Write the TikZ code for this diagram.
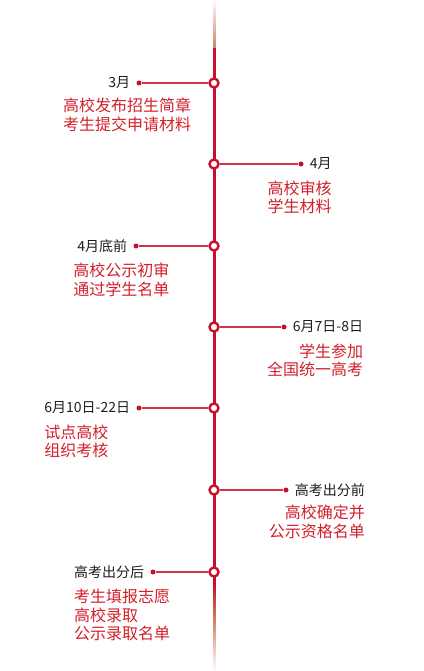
\documentclass[tikz,border=0pt]{standalone}
\usepackage{fontspec}
\setmainfont{Noto Sans CJK SC}
\usetikzlibrary{positioning,calc}
\definecolor{hot}{HTML}{C8102E}
\definecolor{tan}{HTML}{D4846A}
\definecolor{txt}{HTML}{D21F2B}
\definecolor{ink}{HTML}{1E1E1E}
\tikzset{
  knot/.style={circle, draw=hot, fill=white, line width=2.4pt, minimum size=9pt, inner sep=0pt},
  bead/.style={circle, fill=hot, minimum size=5pt, inner sep=0pt},
  when/.style={font=\fontsize{14}{16}\selectfont, text=ink, inner sep=0pt},
  what/.style={font=\fontsize{16}{18.5}\selectfont, text=txt, inner sep=0pt},
  whatl/.style={what, align=left, anchor=base west, yshift=-44pt},
  whatr/.style={what, align=right, anchor=base east, yshift=-44pt},
  branch/.style={draw=hot!85, line width=1.1pt},
}
\begin{document}
\begin{tikzpicture}[x=1pt, y=-1pt]
  \useasboundingbox (0,0) rectangle (423,671);
  % --- spine, faded at both ends
  \foreach \k in {0,...,23} {
    \pgfmathsetmacro\p{5+95*\k/23}
    \fill[tan!\p!white] (212.5,{2*\k}) rectangle (215.5,{2*\k+2.2});
  }
  \fill[hot] (212.5,48) rectangle (215.5,584);
  \foreach \k in {0,...,11} {
    \pgfmathsetmacro\p{100-100*\k/12}
    \fill[hot!\p!tan] (212.5,{584+3*\k}) rectangle (215.5,{584+3*\k+3.2});
  }
  \foreach \k in {0,...,16} {
    \pgfmathsetmacro\p{100-95*\k/16}
    \fill[tan!\p!white] (212.5,{620+3*\k}) rectangle (215.5,{620+3*\k+3.2});
  }

  % --- stops on the spine
  \node[knot] (c1) at (214,83) {};
  \node[knot] (c2) at (214,164) {};
  \node[knot] (c3) at (214,246) {};
  \node[knot] (c4) at (214,327) {};
  \node[knot] (c5) at (214,408) {};
  \node[knot] (c6) at (214,490) {};
  \node[knot] (c7) at (214,572) {};

  % --- ends of the branches
  \node[bead] (d1) at (139,83) {};
  \node[bead] (d2) at (301,164) {};
  \node[bead] (d3) at (136,246) {};
  \node[bead] (d4) at (284,327) {};
  \node[bead] (d5) at (139,408) {};
  \node[bead] (d6) at (286,490) {};
  \node[bead] (d7) at (153,572) {};
  \draw[branch] (c1) -- (d1);
  \draw[branch] (c2) -- (d2);
  \draw[branch] (c3) -- (d3);
  \draw[branch] (c4) -- (d4);
  \draw[branch] (c5) -- (d5);
  \draw[branch] (c6) -- (d6);
  \draw[branch] (c7) -- (d7);

  % --- dates
  \node[when, left=6pt of d1] (t1) {3月};
  \node[when, right=6pt of d2] (t2) {4月};
  \node[when, left=6pt of d3] (t3) {4月底前};
  \node[when, right=6pt of d4] (t4) {6月7日-8日};
  \node[when, left=6pt of d5] (t5) {6月10日-22日};
  \node[when, right=6pt of d6] (t6) {高考出分前};
  \node[when, left=6pt of d7] (t7) {高考出分后};

  % --- what happens
  \node[what, align=left, anchor=base west] (s1) at (63,130.5) {高校发布招生简章\\考生提交申请材料};
  \node[whatr] (s2) at (t2.base east) {高校审核\\学生材料};
  \node[whatl, xshift=-4pt] (s3) at (t3.base west) {高校公示初审\\通过学生名单};
  \node[whatr] (s4) at (t4.base east) {学生参加\\全国统一高考};
  \node[whatl] (s5) at (t5.base west) {试点高校\\组织考核};
  \node[whatr, yshift=2pt] (s6) at (t6.base east) {高校确定并\\公示资格名单};
  \node[whatl, yshift=-18.5pt] (s7) at (t7.base west) {考生填报志愿\\高校录取\\公示录取名单};
\end{tikzpicture}
\end{document}
